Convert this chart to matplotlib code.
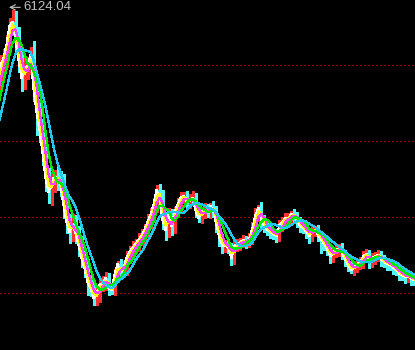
import numpy as np
import pandas as pd
import matplotlib
matplotlib.use("Agg")
import matplotlib.pyplot as plt

# closes, one candle per ~3 px; the first 10 sit left of the view
# so the moving averages already exist at the left edge
closes = [
    3478, 3584, 3674, 3856, 4007, 4158, 4385, 4612, 4839, 5065,
    5277, 5398, 5595, 5882, 5942, 5670, 5368, 5096, 5217, 5277,
    5443, 4944, 4582, 4309, 3977, 3584, 3372, 3508, 3614, 3553,
    3478, 3175, 2918, 2767, 2888, 2752, 2571, 2374, 2223, 2011,
    1920, 1769, 1830, 1966, 1996, 2072, 1920, 1890, 2117, 2283,
    2162, 2223, 2374, 2465, 2525, 2586, 2646, 2707, 2797, 2918,
    3024, 3175, 3402, 3281, 2949, 2797, 3024, 2858, 3070, 3175,
    3281, 3311, 3221, 3251, 3281, 3100, 2979, 3070, 3100, 3070,
    3160, 3070, 2873, 2676, 2555, 2571, 2525, 2374, 2555, 2586,
    2616, 2646, 2616, 2676, 2828, 3024, 3130, 2949, 2858, 2797,
    2767, 2737, 2707, 2873, 2918, 2979, 2979, 3039, 3009, 2918,
    2858, 2828, 2767, 2707, 2797, 2797, 2707, 2646, 2586, 2495,
    2404, 2465, 2495, 2525, 2435, 2344, 2253, 2193, 2253, 2283,
    2314, 2404, 2435, 2314, 2374, 2404, 2419, 2344, 2314, 2283,
    2268, 2223, 2193, 2132, 2117, 2087, 2102, 2057, 2041,
]
upper_shadow = [
    90, 110, 80, 120, 100, 130, 90, 150, 120, 140,
    160, 130, 150, 120, 182.04, 170, 200, 150, 190, 140,
    120, 210, 180, 200, 170, 190, 150, 170, 91, 160,
    140, 170, 150, 120, 150, 130, 110, 130, 120, 140,
    110, 90, 120, 100, 110, 90, 80, 60, 90, 46,
    80, 100, 110, 90, 100, 80, 110, 100, 90, 120,
    100, 110, 76, 90, 120, 80, 110, 90, 80, 100,
    90, 61, 80, 90, 100, 80, 90, 80, 100, 90,
    46, 80, 90, 80, 60, 80, 90, 70, 90, 70,
    60, 70, 60, 70, 90, 100, 45, 90, 80, 60,
    70, 60, 70, 80, 70, 80, 70, 45, 70, 60,
    70, 60, 70, 60, 70, 60, 70, 60, 70, 60,
    70, 80, 70, 60, 70, 60, 70, 60, 70, 60,
    70, 80, 70, 60, 70, 60, 70, 60, 70, 60,
    70, 60, 70, 60, 70, 60, 70, 60, 70,
]
lower_shadow = [
    90, 100, 110, 120, 100, 90, 130, 110, 140, 120,
    150, 130, 140, 110, 130, 160, 180, 200, 160, 140,
    120, 190, 350, 180, 190, 200, 170, 197, 140, 150,
    170, 190, 160, 166, 130, 150, 160, 130, 140, 196,
    120, 104, 110, 120, 90, 100, 110, 60, 80, 100,
    110, 80, 100, 80, 100, 80, 100, 80, 110, 100,
    90, 110, 100, 120, 140, 151, 110, 136, 100, 80,
    90, 80, 110, 90, 80, 110, 61, 80, 90, 80,
    90, 80, 110, 120, 110, 90, 80, 110, 90, 80,
    90, 80, 90, 80, 90, 80, 90, 110, 90, 80,
    90, 80, 85, 80, 90, 80, 90, 80, 90, 80,
    90, 80, 90, 100, 80, 90, 80, 196, 90, 80,
    100, 90, 80, 90, 80, 90, 80, 46, 80, 90,
    80, 90, 80, 90, 80, 90, 80, 90, 80, 90,
    80, 90, 80, 90, 80, 90, 80, 90, 80,
]
n_hidden = 10
peak_label = "6124.04"
grid_levels = [5292, 4143, 2994, 1845]

# moving average windows (in candles) and colours, like the trading terminal
ma_windows = [1, 2, 3, 5, 8]
ma_colors = ["#ffffff", "#ffff00", "#ff40ff", "#00e600", "#20c8f0"]

close = pd.Series(closes, dtype=float)
opens = close.shift(1).fillna(close.iloc[0])
highs = np.maximum(close, opens) + np.array(upper_shadow)
lows = np.minimum(close, opens) - np.array(lower_shadow)
x = np.arange(len(closes)) - n_hidden

fig = plt.figure(figsize=(4.15, 3.5), dpi=100)
fig.patch.set_facecolor("black")
ax = fig.add_axes([0, 0, 1, 1])
ax.set_facecolor("black")

for lvl in grid_levels:
    ax.axhline(lvl, color="#a00000", lw=0.75, ls=(0, (1.4, 2.6)),
               antialiased=False, zorder=1)

up = close.values >= opens.values
for mask, col in [(up, "#ff3030"), (~up, "#50f8f8")]:
    ax.vlines(x[mask], lows[mask], highs[mask], color=col, lw=0.75,
              antialiased=False, zorder=2)
    bottom = np.minimum(close.values, opens.values)[mask]
    height = np.abs(close.values - opens.values)[mask]
    ax.bar(x[mask], np.maximum(height, 15), bottom=bottom, width=0.7,
           color=col, linewidth=0, antialiased=False, zorder=2)

for w, col in zip(ma_windows, ma_colors):
    ma = close.rolling(w).mean()
    ax.plot(x, ma, color=col, lw=0.9, antialiased=False, zorder=3)

# peak marker
i_peak = int(np.argmax(highs))
ax.annotate(peak_label, xy=(2.8, highs[i_peak] + 40),
            xytext=(7.5, highs[i_peak] + 40),
            color="#c0c0c0", fontsize=9.5, family="Liberation Sans",
            va="center", ha="left",
            arrowprops=dict(arrowstyle="->", color="#c0c0c0", lw=0.8,
                            shrinkA=0, shrinkB=0))

ax.set_xlim(-0.17, 138.17)
ax.set_ylim(983, 6275)
ax.axis("off")

fig.savefig("out.png", dpi=100, facecolor="black")
